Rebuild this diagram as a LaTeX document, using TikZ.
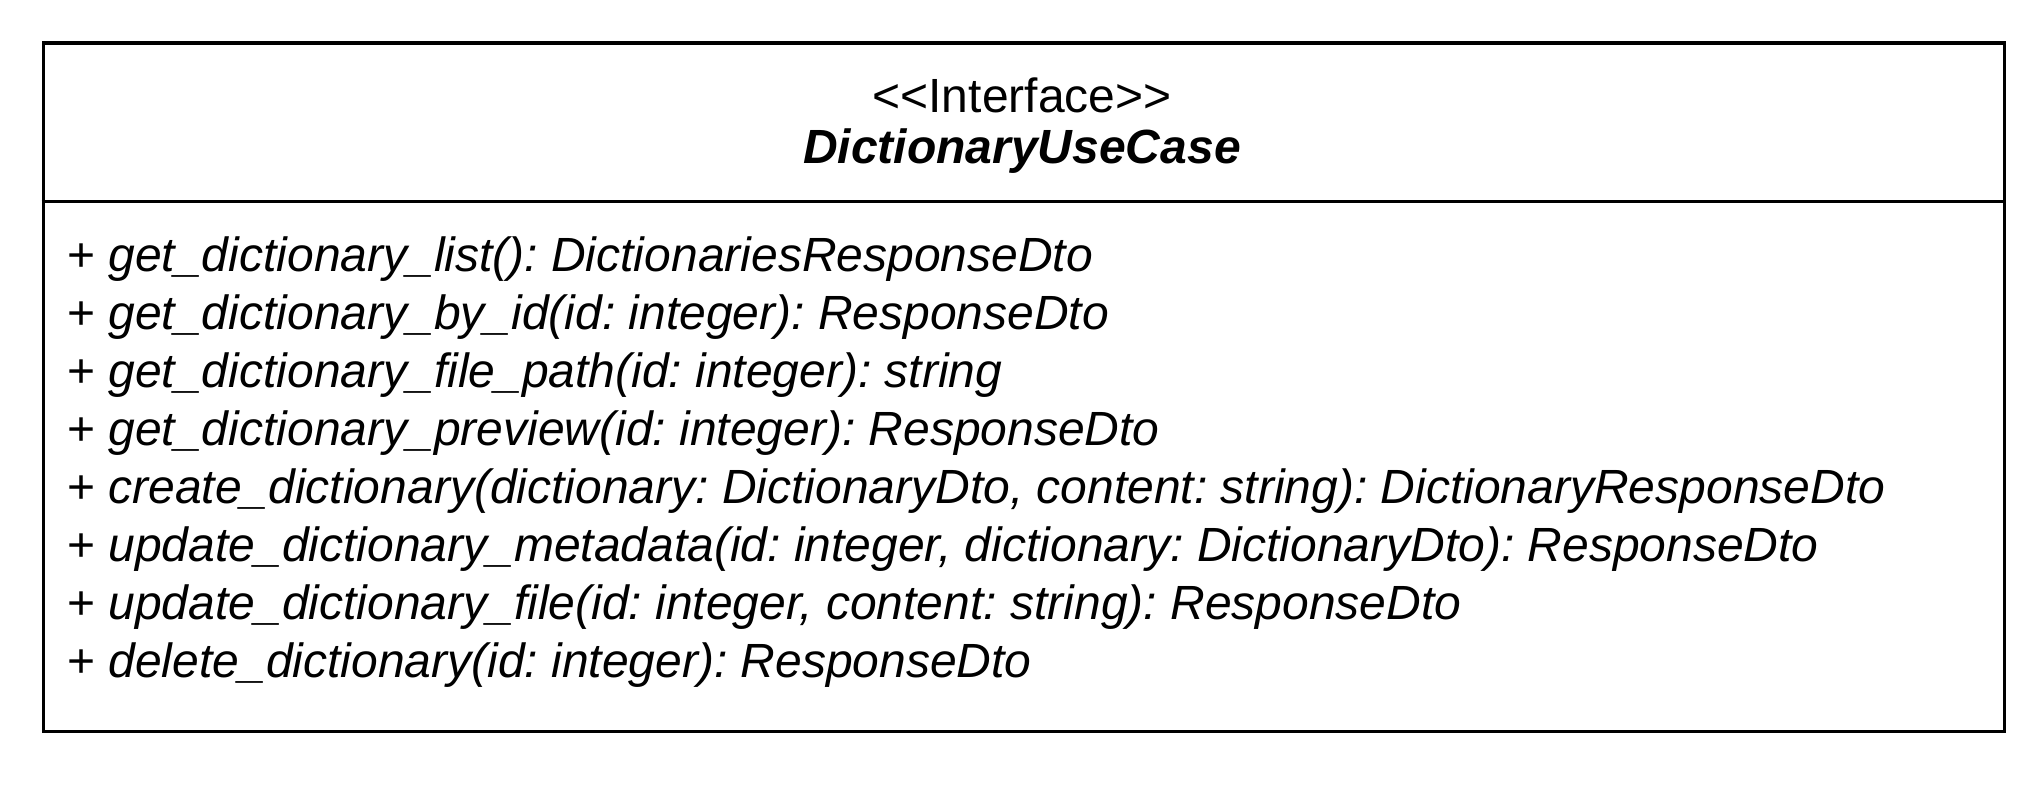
\documentclass[tikz,border=0pt]{standalone}
\usepackage{fontspec}
\setmainfont{Liberation Sans}
\begin{document}
\frenchspacing
\begin{tikzpicture}[x=1pt,y=-1pt,
  boxline/.style={draw=black,line width=3.3pt},
  title/.style={anchor=base,inner sep=0pt,font=\fontsize{48}{56}\selectfont},
  method/.style={anchor=base west,inner sep=0pt,font=\fontsize{48}{56}\selectfont\itshape}]
\useasboundingbox (0,0) rectangle (2044,784);
\fill[white] (0,0) rectangle (2044,784);
\node[boxline,rectangle,minimum width=1961pt,minimum height=688pt,anchor=north west,inner sep=0pt] (box) at (41.5,41.5) {};
\coordinate (dl) at (41.5,201.5);
\coordinate (dr) at (2002.5,201.5);
\draw[line width=3.3pt] (dl) -- (dr);
\node[title] (stereo) at (1022,112) {<{}<Interface>{}>};
\node[title] (name) at (1022,163) {\bfseries\itshape DictionaryUseCase};
\node[method] (m1) at (67,271) {\upshape+ \itshape get\_dictionary\_list(): DictionariesResponseDto};
\node[method] (m2) at (67,329) {\upshape+ \itshape get\_dictionary\_by\_id(id: integer): ResponseDto};
\node[method] (m3) at (67,387) {\upshape+ \itshape get\_dictionary\_file\_path(id: integer): string};
\node[method] (m4) at (67,445) {\upshape+ \itshape get\_dictionary\_preview(id: integer): ResponseDto};
\node[method] (m5) at (67,503) {\upshape+ \itshape create\_dictionary(dictionary: DictionaryDto, content: string): DictionaryResponseDto};
\node[method] (m6) at (67,561) {\upshape+ \itshape update\_dictionary\_metadata(id: integer, dictionary: DictionaryDto): ResponseDto};
\node[method] (m7) at (67,619) {\upshape+ \itshape update\_dictionary\_file(id: integer, content: string): ResponseDto};
\node[method] (m8) at (67,677) {\upshape+ \itshape delete\_dictionary(id: integer): ResponseDto};
\end{tikzpicture}
\end{document}
